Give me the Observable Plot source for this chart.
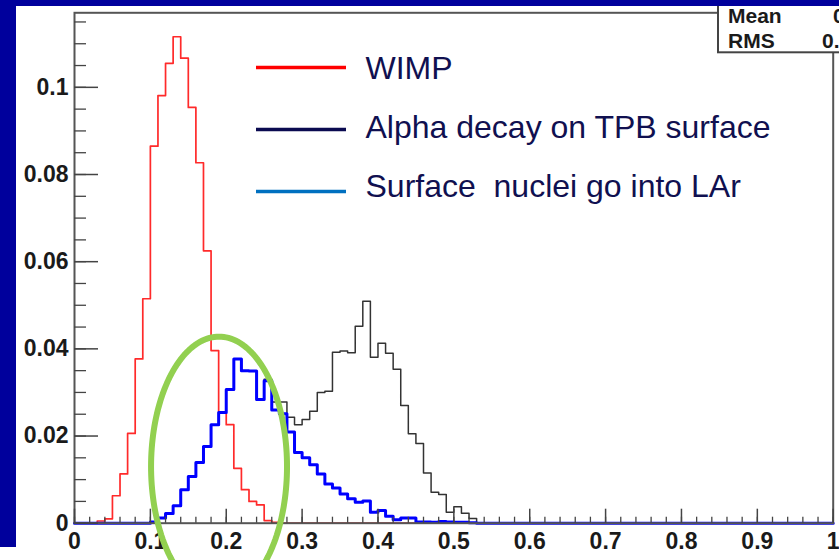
<!DOCTYPE html>
<html><head><meta charset="utf-8">
<script src="https://cdn.jsdelivr.net/npm/d3@7"></script>
<script src="https://cdn.jsdelivr.net/npm/@observablehq/plot@0.6"></script>
<style>
html,body{margin:0;padding:0;background:#fff;overflow:hidden}
#wrap{position:relative;width:839px;height:560px;background:#fff;overflow:hidden}
#chart{position:absolute;left:0;top:0}
#overlay{position:absolute;left:0;top:0}
.band{position:absolute;background:#00009c}
</style></head><body>
<div id="wrap"><div id="chart"></div></div>
<script>
// histogram bins: width 0.01, starting at 0
const binWidth = 0.01;
const nBins = 100;
const wimp = [0,0,0,0.0005,0.0010,0.0063,0.0113,0.0206,0.0377,0.0515,0.0865,0.0981,0.1055,0.1116,0.1067,0.0954,0.0827,0.0625,0.0396,0.0255,0.0226,0.0126,0.0077,0.0050,0.0042,0.0006,0.0002];
const alphaTPB = [0,0,0,0,0,0,0,0,0,0,0.0003,0.0012,0.0022,0.0040,0.0077,0.0107,0.0139,0.0176,0.0226,0.0254,0.0307,0.0377,0.0350,0.0349,0.0284,0.0330,0.0278,0.0278,0.0243,0.0226,0.0238,0.0257,0.0300,0.0303,0.0392,0.0395,0.0391,0.0452,0.0509,0.0381,0.0413,0.0390,0.0353,0.0270,0.0205,0.0183,0.0115,0.0071,0.0066,0.0025,0.0038,0.0023,0.0011];
const surfaceLAr = [0,0,0,0,0,0,0,0,0,0,0.0003,0.0012,0.0022,0.0040,0.0077,0.0107,0.0139,0.0176,0.0226,0.0254,0.0307,0.0377,0.0350,0.0349,0.0284,0.0327,0.0260,0.0251,0.0209,0.0162,0.0150,0.0134,0.0113,0.0090,0.0081,0.0067,0.0056,0.0048,0.0051,0.0025,0.0029,0.0016,0.0008,0.0012,0.0012,0.0003,0.0003,0.0002,0.0004,0.0003,0.0002,0.0002,0.0001];

const legendLabels = ["WIMP", "Alpha decay on TPB surface", "Surface  nuclei go into LAr"];
const legendColors = ["#ff0000", "#0a0a50", "#0070c0"];

const xMajor = [0,0.1,0.2,0.3,0.4,0.5,0.6,0.7,0.8,0.9,1];
const xLabels = ["0","0.1","0.2","0.3","0.4","0.5","0.6","0.7","0.8","0.9","1"];
const yMajor = [0,0.02,0.04,0.06,0.08,0.1];
const yLabels = ["0","0.02","0.04","0.06","0.08","0.1"];
const xMinor = d3.range(0, 1.0001, 0.02);
const yMinor = d3.range(0, 0.1151, 0.005);

const statNames = ["Mean", "RMS"];
const statValues = ["0", "0."];

// highlight ellipse (data units): centre x, centre y, radius x, radius y
const ringCenter = [0.1905, 0.013];
const ringRadius = [0.0896, 0.0298];

function steps(vals){
  const out = [];
  for (let i = 0; i < nBins; i++) out.push({x: i*binWidth, y: vals[i] ?? 0});
  out.push({x: nBins*binWidth, y: vals[nBins-1] ?? 0});
  return out;
}
const ring = d3.range(0, 361, 2).map(a => ({
  x: ringCenter[0] + ringRadius[0]*Math.cos(a*Math.PI/180),
  y: ringCenter[1] + ringRadius[1]*Math.sin(a*Math.PI/180)
}));

const W = 839, H = 560, mL = 74, mR = 6.3, mT = 12.3, mB = 37.3;
const frameW = W - mL - mR, frameH = H - mT - mB;
const font = "'Liberation Sans', Arial, Helvetica, sans-serif";

const chart = Plot.plot({
  width: W, height: H,
  marginLeft: mL, marginRight: mR, marginTop: mT, marginBottom: mB,
  x: {domain: [0, 1], axis: null},
  y: {domain: [0, 0.1171], axis: null},
  style: {background: "transparent", fontFamily: font, overflow: "visible"},
  marks: [
    Plot.line(steps(wimp), {x: "x", y: "y", curve: "step-after", stroke: "#ff2a2a", strokeWidth: 1.7}),
    Plot.line(steps(alphaTPB), {x: "x", y: "y", curve: "step-after", stroke: "#333333", strokeWidth: 1.5}),
    Plot.line(steps(surfaceLAr), {x: "x", y: "y", curve: "step-after", stroke: "#0000ff", strokeWidth: 3}),
    Plot.frame({stroke: "#555", strokeWidth: 2}),
    Plot.tickX(xMinor, {x: d => d, insetTop: frameH - 6, stroke: "#444", strokeWidth: 1.3}),
    Plot.tickX(xMajor, {x: d => d, insetTop: frameH - 14, stroke: "#444", strokeWidth: 1.5}),
    Plot.tickY(yMinor, {y: d => d, insetRight: frameW - 12, stroke: "#444", strokeWidth: 1.3}),
    Plot.tickY(yMajor, {y: d => d, insetRight: frameW - 24, stroke: "#444", strokeWidth: 1.5}),
    Plot.text(xMajor, {x: d => d, text: (d, i) => xLabels[i], frameAnchor: "bottom", lineAnchor: "top", dy: 9, fontSize: 23, fontWeight: "bold", fill: "#1a1a1a"}),
    Plot.text(yMajor, {y: d => d, text: (d, i) => yLabels[i], frameAnchor: "left", textAnchor: "end", dx: -6, fontSize: 23, fontWeight: "bold", fill: "#1a1a1a"}),
    Plot.line(ring, {x: "x", y: "y", stroke: "#92d050", strokeWidth: 6, curve: "linear-closed"})
  ]
});
document.getElementById("chart").appendChild(chart);

// overlay: legend and stats box
const wrap = d3.select("#wrap");
const ov = wrap.append("svg").attr("id", "overlay").attr("width", W).attr("height", H)
  .style("font-family", font);
const legY = [67.5, 129.5, 191.5];
const legBase = [78.6, 138.1, 196.7];
legendLabels.forEach((t, i) => {
  ov.append("line").attr("x1", 256).attr("x2", 346).attr("y1", legY[i]).attr("y2", legY[i])
    .attr("stroke", legendColors[i]).attr("stroke-width", 3.4);
  ov.append("text").attr("x", 365.5).attr("y", legBase[i]).attr("font-size", 32)
    .attr("fill", "#101050").text(t).style("white-space", "pre");
});
ov.append("rect").attr("x", 718).attr("y", 0).attr("width", 140).attr("height", 52.3)
  .attr("fill", "#fff").attr("stroke", "#444").attr("stroke-width", 2);
statNames.forEach((t, i) => {
  const y = [22.7, 47.7][i];
  ov.append("text").attr("x", 728).attr("y", y).attr("font-size", 21).attr("font-weight", "bold").attr("fill", "#1a1a1a").text(t);
  ov.append("text").attr("x", [833, 822][i]).attr("y", y).attr("font-size", 21).attr("font-weight", "bold").attr("fill", "#1a1a1a").text(statValues[i]);
});
// blue slide border
wrap.append("div").attr("class", "band").style("left", "0px").style("top", "0px").style("width", "839px").style("height", "6px");
wrap.append("div").attr("class", "band").style("left", "0px").style("top", "0px").style("width", "16px").style("height", "547px");
</script>
</body></html>
